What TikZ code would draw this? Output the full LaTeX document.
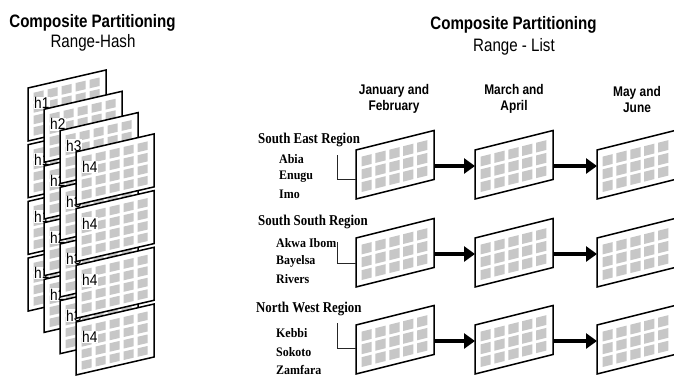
\documentclass[tikz,border=0pt]{standalone}
\usepackage{fontspec}
\setmainfont{Liberation Serif}
\setsansfont{Liberation Sans}
\usetikzlibrary{arrows.meta,calc}

\tikzset{
  panelline/.style={draw=black, fill=white, line width=1.5pt, line join=miter},
  cell/.style={fill=black!22, draw=none},
  flow/.style={line width=3.6pt, -{Triangle[length=11pt,width=15pt]}},
  link/.style={draw=black!85, line width=0.8pt},
  title/.style={font=\sffamily\bfseries\fontsize{18}{21}\selectfont, xscale=0.84, inner sep=0},
  subtitle/.style={font=\sffamily\fontsize{18}{21}\selectfont, xscale=0.84, inner sep=0},
  colhead/.style={font=\sffamily\bfseries\fontsize{14}{16}\selectfont, xscale=0.85, align=center, inner sep=0},
  region/.style={font=\rmfamily\bfseries\fontsize{15}{17}\selectfont, xscale=0.86, anchor=west, inner sep=0},
  place/.style={font=\rmfamily\bfseries\fontsize{13}{15}\selectfont, xscale=0.92, anchor=west, inner sep=0},
  hlabel/.style={font=\sffamily\fontsize{15.5}{17}\selectfont, xscale=0.88, fill=white, inner sep=0.6pt, anchor=west},
}

% left (hash) pane: #1 name, #2 x, #3 y (top-left, y downward), #4 label
\newcommand\hpane[4]{%
  \begin{scope}[shift={(#2,-#3)}, yslant=0.2308]
    \path[panelline] (0,0) rectangle (78,-53);
    \foreach \ci in {0,...,4}{\foreach \cj in {0,...,3}{
      \fill[cell] ({5.5+\ci*14},{-6-\cj*11.5}) rectangle ++(10,-8.5);}}
  \end{scope}
  \node[hlabel] (#1-lab) at ({#2+5.5},{-#3-15}) {#4};
}

% right (list) pane: #1 name, #2 x, #3 y (top-left, y downward)
\newcommand\rpane[3]{%
  \begin{scope}[shift={(#2,-#3)}, yslant=0.25]
    \path[panelline] (0,0) rectangle (78,-49);
    \foreach \ci in {0,...,4}{\foreach \cj in {0,1,2}{
      \fill[cell] ({5.5+\ci*13.9},{-8-\cj*12.8}) rectangle ++(10.2,-9.8);}}
  \end{scope}
  \coordinate (#1-in) at (#2,{-#3-16});
  \coordinate (#1-out) at ({#2+78},{-#3-16});
}

\begin{document}
\begin{tikzpicture}[x=1pt,y=1pt]
\useasboundingbox (0,0) rectangle (674,-376);
\clip (0,0) rectangle (674,-376);

% titles
\node[title] (lt) at (92.5,-23) {Composite Partitioning};
\node[subtitle] (ls) at (93,-43) {Range-Hash};
\node[title] (rt) at (513.5,-25) {Composite Partitioning};
\node[subtitle] (rs) at (514,-47) {Range - List};

% left stack
\foreach \k in {1,...,4}{
  \foreach \j in {0,...,3}{
    \pgfmathsetmacro\xx{28+16*(\k-1)}
    \pgfmathsetmacro\yy{88+21.3*(\k-1)+56.7*\j}
    \hpane{h\k\j}{\xx}{\yy}{h\k}
  }
}

% column headers
\node[colhead] (c1) at (394,-99) {January and\\February};
\node[colhead] (c2) at (514,-99) {March and\\April};
\node[colhead] (c3) at (637,-99) {May and\\June};

% right panes
\rpane{p11}{356}{150}
\rpane{p12}{475}{150}
\rpane{p13}{597}{150}
\rpane{p21}{356}{238}
\rpane{p22}{475}{238}
\rpane{p23}{597}{238}
\rpane{p31}{356}{325}
\rpane{p32}{475}{325}
\rpane{p33}{597}{325}

\draw[flow] (p11-out) -- (p12-in);
\draw[flow] (p12-out) -- (p13-in);
\draw[flow] (p21-out) -- (p22-in);
\draw[flow] (p22-out) -- (p23-in);
\draw[flow] (p31-out) -- (p32-in);
\draw[flow] (p32-out) -- (p33-in);

% region labels
\node[region] (se) at (258,-140) {South East Region};
\node[place] (abia) at (279,-159) {Abia};
\node[place] (enugu) at (279,-177) {Enugu};
\node[place] (imo) at (279,-194) {Imo};

\node[region] (ss) at (258,-222) {South South Region};
\node[place] (akwa) at (276,-243) {Akwa Ibom};
\node[place] (bayelsa) at (276,-261) {Bayelsa};
\node[place] (rivers) at (276,-279) {Rivers};

\node[region] (nw) at (256,-309) {North West Region};
\node[place] (kebbi) at (276,-333) {Kebbi};
\node[place] (sokoto) at (276,-352) {Sokoto};
\node[place] (zamfara) at (276,-370) {Zamfara};

% connectors from region lists to first panes
\coordinate (se-k) at (337,-155);
\coordinate (p11-lk) at (356,-179);
\draw[link] (se-k) |- (p11-lk);
\coordinate (ss-k) at (337,-242);
\coordinate (p21-lk) at (356,-263);
\draw[link] (ss-k) |- (p21-lk);
\coordinate (nw-k) at (337,-323);
\coordinate (p31-lk) at (356,-348);
\draw[link] (nw-k) |- (p31-lk);
\end{tikzpicture}
\end{document}
